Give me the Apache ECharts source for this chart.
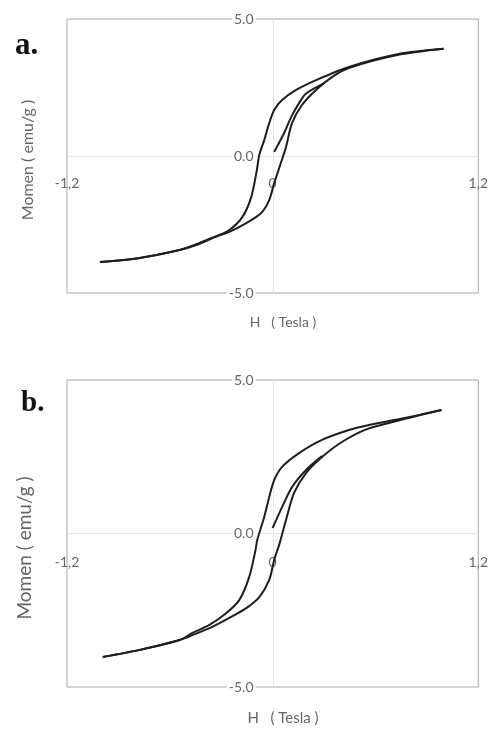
<!DOCTYPE html>
<html>
<head>
<meta charset="utf-8">
<script src="https://cdn.jsdelivr.net/npm/echarts@6/dist/echarts.min.js"></script>
<style>
  html, body { margin: 0; padding: 0; background: #fff; }
  #chart { width: 491px; height: 733px; }
</style>
</head>
<body>
<div id="chart"></div>
<script>
// tick values
var hTicks = [-1.2, 0, 1.2]
var mTicks = [-5, 0, 5]

// panel a : [H (Tesla), Momen (emu/g)]
var aDescending = [[0.997, 3.91], [0.735, 3.72], [0.445, 3.25], [0.253, 2.77], [0.137, 2.41], [0.055, 2.04],
  [0.009, 1.68], [-0.020, 1.20], [-0.049, 0.58], [-0.078, 0.04], [-0.092, -0.51], [-0.125, -1.50],
  [-0.177, -2.23], [-0.253, -2.70], [-0.352, -3.00], [-0.445, -3.25], [-0.543, -3.43], [-0.776, -3.72], [-1.008, -3.87]]
var aAscending = [[-1.008, -3.87], [-0.776, -3.72], [-0.543, -3.43], [-0.445, -3.22], [-0.352, -2.98], [-0.253, -2.77], [-0.154, -2.45],
  [-0.067, -2.08], [-0.020, -1.61], [0.009, -0.99], [0.044, -0.33], [0.078, 0.33], [0.113, 1.20], [0.171, 1.86],
  [0.253, 2.41], [0.346, 2.88], [0.445, 3.21], [0.735, 3.69], [0.997, 3.91]]
var aVirgin = [[0.009, 0.15], [0.067, 0.84], [0.108, 1.42], [0.154, 1.93], [0.195, 2.28], [0.30, 2.65]]

// panel b
var bDescending = [[0.985, 4.02], [0.735, 3.72], [0.55, 3.52], [0.445, 3.37], [0.288, 3.05], [0.154, 2.62], [0.055, 2.17],
  [0.009, 1.74], [-0.020, 1.19], [-0.049, 0.54], [-0.090, -0.21], [-0.100, -0.54], [-0.137, -1.42],
  [-0.195, -2.17], [-0.270, -2.59], [-0.369, -2.98], [-0.468, -3.24], [-0.543, -3.47], [-0.776, -3.79], [-0.991, -4.02]]
var bAscending = [[-0.991, -4.02], [-0.776, -3.79], [-0.543, -3.47], [-0.45, -3.27], [-0.352, -3.04], [-0.253, -2.75], [-0.154, -2.43],
  [-0.078, -2.07], [-0.020, -1.51], [0.009, -0.86], [0.038, -0.37], [0.078, 0.44], [0.125, 1.32], [0.195, 1.97],
  [0.288, 2.49], [0.404, 2.98], [0.55, 3.40], [0.735, 3.68], [0.985, 4.02]]
var bVirgin = [[0.0, 0.18], [0.055, 0.86], [0.113, 1.51], [0.195, 2.07], [0.288, 2.52]]

var chart = echarts.init(document.getElementById('chart'))

var textFont = 'Lato'
var gridA = { left: 67, top: 19, width: 413, height: 274 }
var gridB = { left: 67, top: 380, width: 413, height: 307 }

function xAxisOf(idx, g, margin) {
  return {
    type: 'value', gridIndex: idx, min: hTicks[0], max: hTicks[2], interval: 1.2,
    position: 'bottom', offset: -g.height / 2,
    axisLine: { onZero: false, lineStyle: { color: '#e6e6e6', width: 1 } },
    axisTick: { show: false },
    splitLine: { show: false },
    axisLabel: {
      margin: margin, color: '#666', fontSize: 14, fontFamily: textFont,
      showMinLabel: true, showMaxLabel: true,
      formatter: function(v) { return String(v).replace('.', ',') }
    }
  }
}
function yAxisOf(idx, g) {
  return {
    type: 'value', gridIndex: idx, min: mTicks[0], max: mTicks[2], interval: 5,
    position: 'left', offset: -g.width / 2,
    axisLine: { onZero: false, lineStyle: { color: '#e6e6e6', width: 1 } },
    axisTick: { show: false },
    splitLine: { show: false },
    axisLabel: {
      margin: 18, color: '#666', fontSize: 14, fontFamily: textFont,
      backgroundColor: '#fff', padding: [0, 2],
      showMinLabel: true, showMaxLabel: true,
      formatter: function(v) { return v.toFixed(1) }
    }
  }
}
function loop(idx, data) {
  return {
    type: 'line', xAxisIndex: idx, yAxisIndex: idx, data: data, smooth: 0.3,
    showSymbol: false, lineStyle: { color: '#1e1e1e', width: 2 }, z: 3
  }
}
function gridOf(g) {
  return Object.assign({ show: true, borderColor: '#a8a8a8', borderWidth: 1, backgroundColor: 'transparent' }, g)
}

chart.setOption({
  animation: false,
  backgroundColor: '#fff',
  grid: [gridOf(gridA), gridOf(gridB)],
  xAxis: [xAxisOf(0, gridA, 20), xAxisOf(1, gridB, 22)],
  yAxis: [yAxisOf(0, gridA), yAxisOf(1, gridB)],
  series: [
    loop(0, aDescending), loop(0, aAscending), loop(0, aVirgin),
    loop(1, bDescending), loop(1, bAscending), loop(1, bVirgin)
  ],
  graphic: [
    { type: 'text', left: 15, top: 30, style: { text: 'a.', font: 'bold 31px "Liberation Serif"', fill: '#111' } },
    { type: 'text', left: 21, top: 389, style: { text: 'b.', font: 'bold 29px "Liberation Serif"', fill: '#111' } },
    { type: 'text', x: 283, y: 322, style: { text: 'H   ( Tesla )', font: '14px ' + textFont, fill: '#666', align: 'center', verticalAlign: 'middle' } },
    { type: 'text', x: 283, y: 718, style: { text: 'H   ( Tesla )', font: '15px ' + textFont, fill: '#666', align: 'center', verticalAlign: 'middle' } },
    { type: 'text', x: 28, y: 160, rotation: Math.PI / 2, style: { text: 'Momen ( emu/g )', font: '16px ' + textFont, fill: '#666', align: 'center', verticalAlign: 'middle' } },
    { type: 'text', x: 25, y: 548, rotation: Math.PI / 2, style: { text: 'Momen ( emu/g )', font: '19px ' + textFont, fill: '#666', align: 'center', verticalAlign: 'middle' } }
  ]
})
</script>
</body>
</html>
